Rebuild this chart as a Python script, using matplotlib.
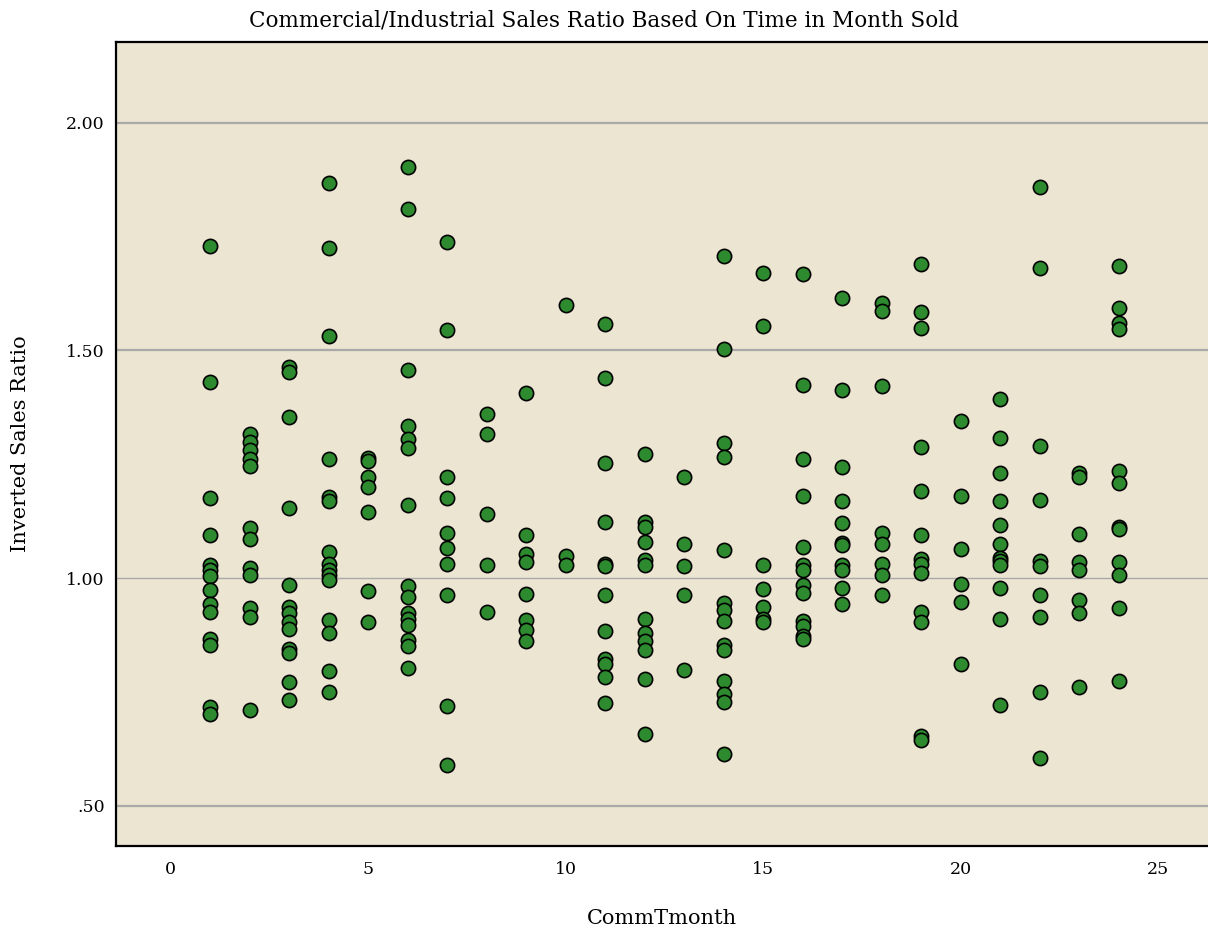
import matplotlib
matplotlib.use("Agg")
import matplotlib.pyplot as plt

plt.rcParams['font.family'] = ['DejaVu Serif', 'Liberation Serif']

# sales ratio values read per month (CommTmonth)
m01 = [1.730, 1.430, 1.177, 1.094, 1.028, 1.018, 1.005, 0.975, 0.943, 0.926, 0.866, 0.854, 0.717, 0.701]
m02 = [1.316, 1.299, 1.281, 1.261, 1.247, 1.111, 1.087, 1.023, 1.007, 0.934, 0.915, 0.711]
m03 = [1.463, 1.452, 1.353, 1.154, 0.986, 0.936, 0.924, 0.903, 0.889, 0.844, 0.835, 0.771, 0.733]
m04 = [1.868, 1.724, 1.532, 1.261, 1.178, 1.169, 1.058, 1.030, 1.017, 1.007, 0.995, 0.909, 0.880, 0.797, 0.750]
m05 = [1.264, 1.258, 1.221, 1.200, 1.145, 0.971, 0.903]
m06 = [1.902, 1.810, 1.457, 1.334, 1.305, 1.286, 1.161, 0.983, 0.959, 0.924, 0.911, 0.897, 0.865, 0.851, 0.802]
m07 = [1.737, 1.545, 1.223, 1.175, 1.099, 1.067, 1.032, 0.962, 0.720, 0.590]
m08 = [1.361, 1.316, 1.141, 1.028, 0.926]
m09 = [1.406, 1.094, 1.053, 1.035, 0.966, 0.908, 0.886, 0.863]
m10 = [1.599, 1.049, 1.028]
m11 = [1.557, 1.439, 1.252, 1.124, 1.032, 1.026, 0.963, 0.884, 0.822, 0.811, 0.782, 0.725]
m12 = [1.272, 1.124, 1.113, 1.080, 1.040, 1.029, 0.911, 0.880, 0.863, 0.842, 0.779, 0.657]
m13 = [1.221, 1.076, 1.026, 0.963, 0.798]
m14 = [1.708, 1.503, 1.297, 1.267, 1.061, 0.945, 0.931, 0.906, 0.853, 0.843, 0.774, 0.745, 0.728, 0.613]
m15 = [1.671, 1.553, 1.029, 0.977, 0.936, 0.911, 0.903]
m16 = [1.667, 1.424, 1.262, 1.181, 1.069, 1.028, 1.019, 0.986, 0.968, 0.906, 0.894, 0.874, 0.866]
m17 = [1.614, 1.412, 1.245, 1.169, 1.122, 1.078, 1.072, 1.028, 1.019, 0.978, 0.944]
m18 = [1.605, 1.587, 1.422, 1.099, 1.074, 1.030, 1.006, 0.964]
m19 = [1.690, 1.585, 1.550, 1.288, 1.192, 1.094, 1.043, 1.030, 1.012, 0.926, 0.903, 0.653, 0.645]
m20 = [1.346, 1.181, 1.063, 0.987, 0.948, 0.812]
m21 = [1.394, 1.308, 1.231, 1.169, 1.116, 1.076, 1.044, 1.037, 1.028, 0.978, 0.911, 0.722]
m22 = [1.859, 1.681, 1.291, 1.172, 1.038, 1.026, 0.964, 0.914, 0.750, 0.606]
m23 = [1.231, 1.222, 1.098, 1.035, 1.017, 0.952, 0.924, 0.762]
m24 = [1.685, 1.592, 1.560, 1.548, 1.235, 1.210, 1.113, 1.107, 1.035, 1.006, 0.934, 0.775]

months = [m01, m02, m03, m04, m05, m06, m07, m08, m09, m10, m11, m12,
          m13, m14, m15, m16, m17, m18, m19, m20, m21, m22, m23, m24]

x_vals = []
y_vals = []
for i, vals in enumerate(months):
    for v in vals:
        x_vals.append(i + 1)
        y_vals.append(v)

fig = plt.figure(figsize=(12.08, 9.44), dpi=100)
ax = fig.add_axes([0.096, 0.1038, 0.904, 0.8517])
ax.set_facecolor('#ebe5d1')

# horizontal reference lines
for yv in [0.5, 1.5, 2.0]:
    ax.axhline(yv, color='#a9a9a9', linewidth=1.6, zorder=1)
ax.axhline(1.0, color='#a9a9a9', linewidth=1.0, zorder=1)

ax.scatter(x_vals, y_vals, s=105, c='#2e8a2e', edgecolors='black',
           linewidths=1.2, zorder=3)

ax.set_xlim(-1.385, 26.26)
ax.set_ylim(0.412, 2.177)
ax.set_xticks([0, 5, 10, 15, 20, 25])
ax.set_yticks([0.5, 1.0, 1.5, 2.0])
ax.set_yticklabels(['.50', '1.00', '1.50', '2.00'])
ax.tick_params(axis='both', length=0, labelsize=12.5, pad=11)
ax.tick_params(axis='y', pad=8)

for side in ['top', 'left', 'bottom']:
    ax.spines[side].set_linewidth(1.6)
ax.spines['right'].set_visible(False)

ax.set_xlabel('CommTmonth', fontsize=15, labelpad=22)
ax.set_ylabel('Inverted Sales Ratio', fontsize=15, labelpad=26)
fig.text(0.5, 0.978, 'Commercial/Industrial Sales Ratio Based On Time in Month Sold',
         ha='center', va='center', fontsize=15.5)

fig.savefig('out.png', dpi=100)
